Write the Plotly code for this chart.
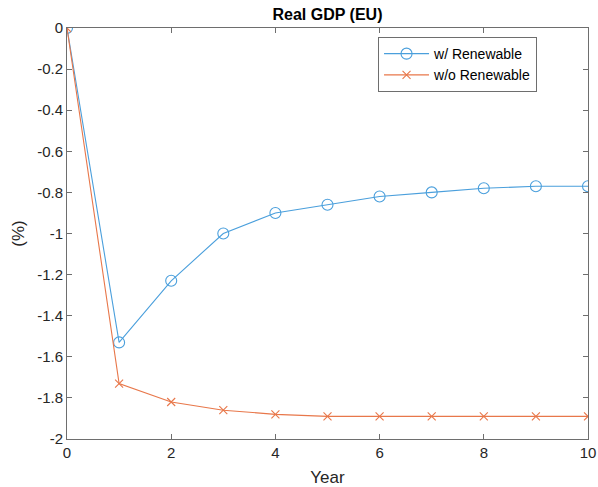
import plotly.graph_objects as go

years = [0, 1, 2, 3, 4, 5, 6, 7, 8, 9, 10]
gdp_with_renewable = [0, -1.53, -1.23, -1.00, -0.90, -0.86, -0.82, -0.80, -0.78, -0.77, -0.77]
gdp_without_renewable = [0, -1.73, -1.82, -1.86, -1.88, -1.89, -1.89, -1.89, -1.89, -1.89, -1.89]

x_ticks = [0, 2, 4, 6, 8, 10]
y_ticks = [0, -0.2, -0.4, -0.6, -0.8, -1, -1.2, -1.4, -1.6, -1.8, -2]
y_tick_text = ["0", "-0.2", "-0.4", "-0.6", "-0.8", "-1", "-1.2", "-1.4", "-1.6", "-1.8", "-2"]

blue = "#4A9FDC"
orange = "#E8774A"
axis_color = "#6E6E6E"
font = "Liberation Sans, Arial, sans-serif"

fig = go.Figure()
fig.add_trace(go.Scatter(
    x=years, y=gdp_with_renewable, name="w/ Renewable",
    mode="lines+markers",
    line=dict(color=blue, width=1.1),
    marker=dict(symbol="circle-open", size=11, color=blue, line=dict(width=1.1)),
))
fig.add_trace(go.Scatter(
    x=years, y=gdp_without_renewable, name="w/o Renewable",
    mode="lines+markers",
    line=dict(color=orange, width=1.1),
    marker=dict(symbol="x-thin-open", size=8, color=orange, line=dict(width=1.1, color=orange)),
))

axis_common = dict(
    showgrid=False, zeroline=False, showline=True, mirror="ticks",
    linecolor=axis_color, linewidth=1, ticks="inside", ticklen=5,
    tickcolor=axis_color, tickfont=dict(size=15, color="#262626", family=font),
    automargin=False,
)

fig.update_layout(
    width=598, height=487,
    margin=dict(l=67, r=10, t=28, b=48),
    paper_bgcolor="white", plot_bgcolor="white",
    title=dict(text="<b>Real GDP (EU)</b>", x=0.5, xanchor="center", xref="paper",
               y=1, yref="container", yanchor="top", pad=dict(t=9),
               font=dict(size=16, color="#000000", family=font)),
    xaxis=dict(range=[0, 10], tickvals=x_ticks,
               title=dict(text="Year", standoff=17, font=dict(size=17, color="#262626", family=font)),
               **axis_common),
    yaxis=dict(range=[-2, 0], tickvals=y_ticks, ticktext=y_tick_text,
               title=dict(text="(%)", standoff=8, font=dict(size=17, color="#262626", family=font)),
               **axis_common),
    legend=dict(x=0.597, y=0.978, xanchor="left", yanchor="top",
                bgcolor="white", bordercolor=axis_color, borderwidth=1,
                font=dict(size=14, color="#000000", family=font),
                tracegroupgap=0, itemwidth=45),
    showlegend=True,
)

fig.write_html("out.html")
